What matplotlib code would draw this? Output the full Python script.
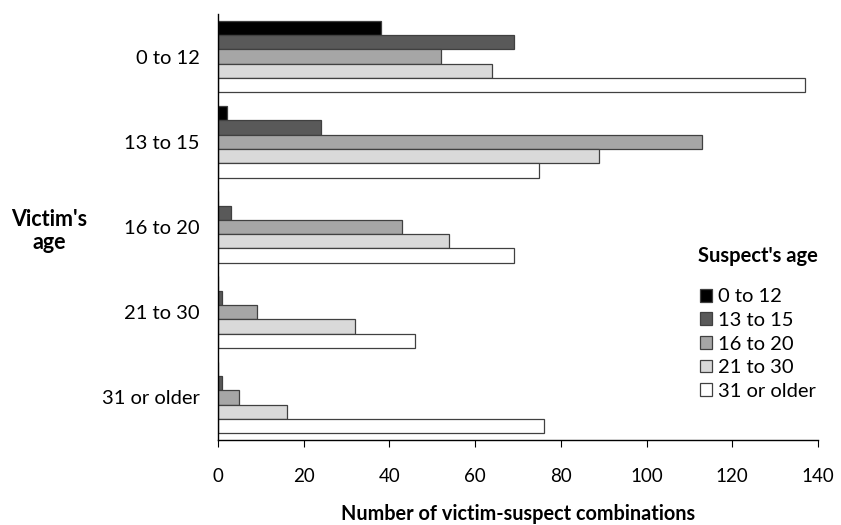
import numpy as np
import matplotlib.pyplot as plt

plt.rcParams['font.family'] = ['Lato', 'DejaVu Sans']

victim_ages = ['0 to 12', '13 to 15', '16 to 20', '21 to 30', '31 or older']
suspect_ages = ['0 to 12', '13 to 15', '16 to 20', '21 to 30', '31 or older']

# rows: suspect age group, columns: victim age group
s_0_12 = [38, 2, 0, 0, 0]
s_13_15 = [69, 24, 3, 1, 1]
s_16_20 = [52, 113, 43, 9, 5]
s_21_30 = [64, 89, 54, 32, 16]
s_31_up = [137, 75, 69, 46, 76]
series = [s_0_12, s_13_15, s_16_20, s_21_30, s_31_up]

colors = ['#000000', '#595959', '#a6a6a6', '#d9d9d9', '#ffffff']

fig = plt.figure(figsize=(8.41, 5.25), dpi=100)
ax = fig.add_axes([218 / 841, 1 - 440 / 525, 600 / 841, 426 / 525])

y = np.arange(len(victim_ages))
h = 0.168
for i, (vals, c) in enumerate(zip(series, colors)):
    ax.barh(y + (i - 2) * h, vals, height=h, color=c, edgecolor='#404040',
            linewidth=0.9, label=suspect_ages[i])

ax.set_xlim(0, 140)
ax.set_ylim(4.5, -0.5)
ax.set_xticks(np.arange(0, 141, 20))
ax.set_yticks(y)
ax.set_yticklabels(victim_ages)
ax.tick_params(axis='y', length=0, pad=13, labelsize=14.5)
ax.tick_params(axis='x', length=5, direction='out', pad=15.5, labelsize=13.5)
for s in ['top', 'right']:
    ax.spines[s].set_visible(False)
ax.spines['left'].set_linewidth(1)
ax.spines['bottom'].set_linewidth(1)

fig.text(49 / 841, 1 - 231 / 525, "Victim's\nage", ha='center', va='center',
         fontsize=15.5, fontweight='bold', linespacing=1.15)
fig.text(518 / 841, 1 - 520 / 525, 'Number of victim-suspect combinations',
         ha='center', va='baseline', fontsize=14.3, fontweight='bold')

leg = ax.legend(loc='upper left', bbox_to_anchor=(698 / 841, 1 - 246 / 525),
                bbox_transform=fig.transFigure, frameon=False, fontsize=14.5,
                title="Suspect's age", handlelength=0.6, handleheight=0.6,
                handletextpad=0.3, labelspacing=0.33, alignment='center',
                borderpad=0, borderaxespad=0)
leg.get_title().set_fontweight('bold')
leg.get_title().set_fontsize(14.5)
leg._legend_box.sep = 16

fig.savefig('out.png', dpi=100)
